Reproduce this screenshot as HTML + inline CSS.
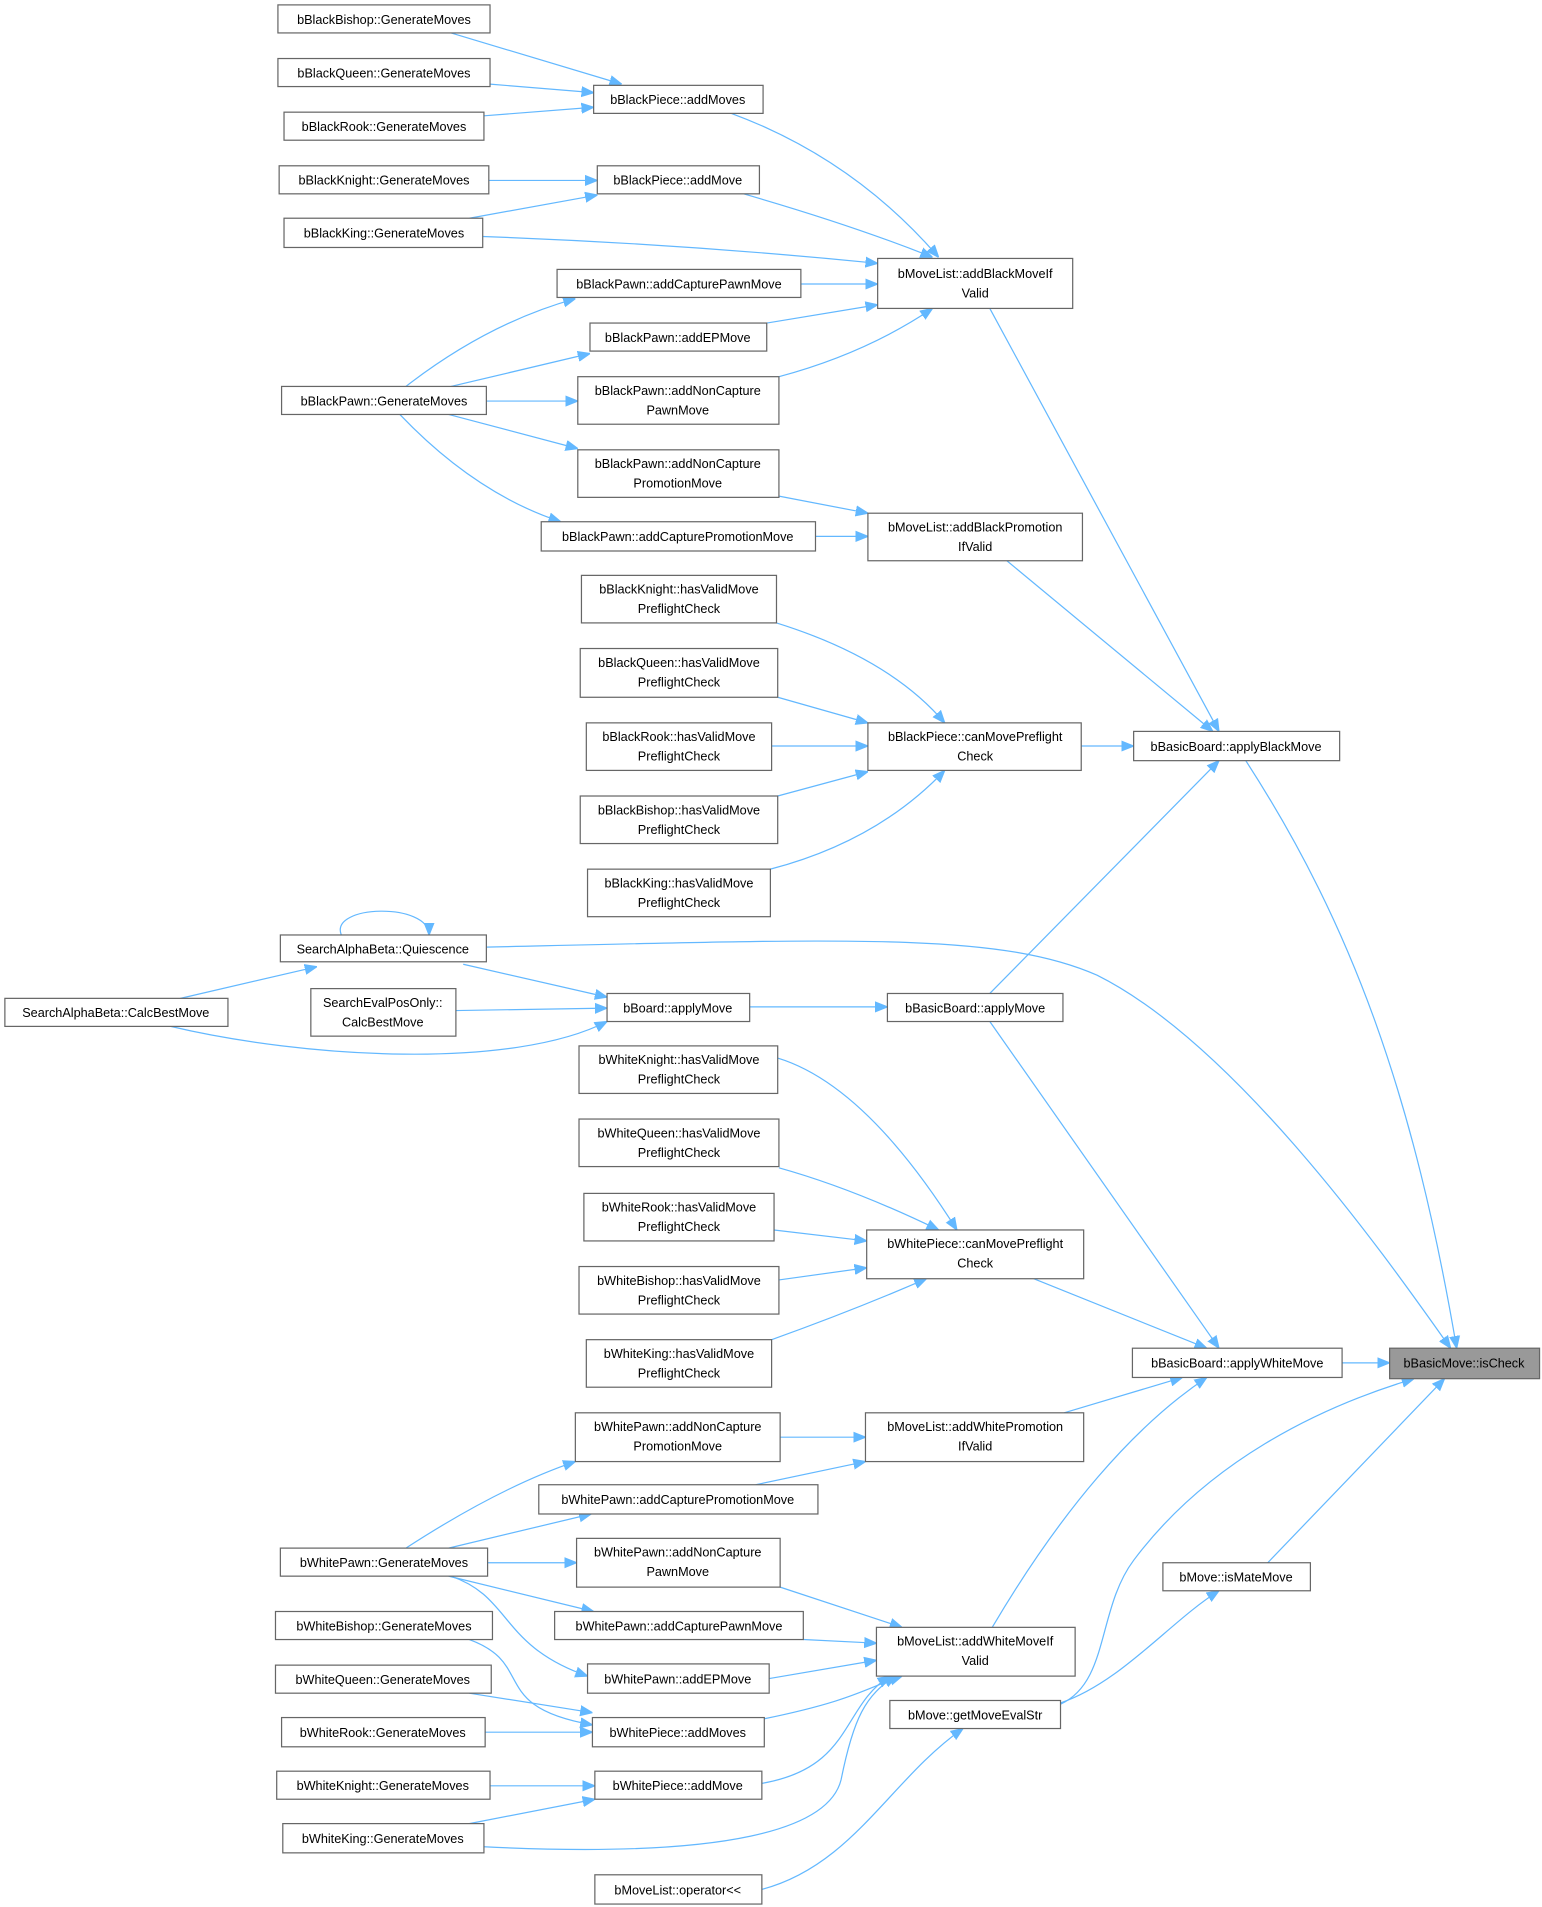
<!DOCTYPE html>
<html><head><meta charset="utf-8"><style>
html,body{margin:0;padding:0;background:#fff;}
svg{display:block;}
text{font-family:"Liberation Sans","DejaVu Sans",sans-serif;font-size:10.4px;fill:#000;text-anchor:middle;}
rect{fill:#fff;stroke:#666;stroke-width:1;}
path{fill:none;stroke:#63b8ff;stroke-width:1;}
</style></head><body>
<svg width="1542" height="1907" viewBox="0 0 1265 1564.4" xmlns="http://www.w3.org/2000/svg">
<defs><marker id="a" viewBox="0 0 10 10" refX="10" refY="5" markerWidth="10" markerHeight="10" markerUnits="userSpaceOnUse" orient="auto"><path d="M0,1 L10,5 L0,9 z" style="fill:#63b8ff;stroke:#63b8ff"/></marker></defs>
<g marker-end="url(#a)">
<path d="M370,27 L510,69" marker-end="url(#a)"/>
<path d="M402,69 L487,76" marker-end="url(#a)"/>
<path d="M397,95 L487,88" marker-end="url(#a)"/>
<path d="M401,148 L490,148" marker-end="url(#a)"/>
<path d="M385,179 L490,160" marker-end="url(#a)"/>
<path d="M600,93 Q700,130 770,211" marker-end="url(#a)"/>
<path d="M610,159 Q700,185 765,211" marker-end="url(#a)"/>
<path d="M396,194 Q560,200 720,216" marker-end="url(#a)"/>
<path d="M657,233 L720,233" marker-end="url(#a)"/>
<path d="M629,265 L720,250" marker-end="url(#a)"/>
<path d="M639,309 Q710,290 765,253" marker-end="url(#a)"/>
<path d="M333,317 Q400,265 472,245" marker-end="url(#a)"/>
<path d="M370,317 L484,290" marker-end="url(#a)"/>
<path d="M399,329 L474,329" marker-end="url(#a)"/>
<path d="M368,340 L474,368" marker-end="url(#a)"/>
<path d="M328,340 Q390,405 460,428" marker-end="url(#a)"/>
<path d="M639,407 L712,421" marker-end="url(#a)"/>
<path d="M669,440 L712,440" marker-end="url(#a)"/>
<path d="M812,253 L1000,600" marker-end="url(#a)"/>
<path d="M826,460 L995,600" marker-end="url(#a)"/>
<path d="M637,511 Q730,540 775,593" marker-end="url(#a)"/>
<path d="M638,572 L712,593" marker-end="url(#a)"/>
<path d="M633,612 L712,612" marker-end="url(#a)"/>
<path d="M638,653 L712,633" marker-end="url(#a)"/>
<path d="M632,713 Q720,690 775,632" marker-end="url(#a)"/>
<path d="M887,612 L930,612" marker-end="url(#a)"/>
<path d="M280,767 C270,742 352,740 352,767" marker-end="url(#a)"/>
<path d="M148,819 L260,793" marker-end="url(#a)"/>
<path d="M140,842 C250,868 420,878 498,838" marker-end="url(#a)"/>
<path d="M374,829 L498,827" marker-end="url(#a)"/>
<path d="M380,791 L498,818" marker-end="url(#a)"/>
<path d="M615,826 L728,826" marker-end="url(#a)"/>
<path d="M812,815 L1000,624" marker-end="url(#a)"/>
<path d="M812,838 L1000,1106" marker-end="url(#a)"/>
<path d="M399,777 C700,770 820,765 900,800 C1020,860 1150,1050 1190,1106" marker-end="url(#a)"/>
<path d="M1022,624 C1110,760 1160,900 1195,1106" marker-end="url(#a)"/>
<path d="M638,868 Q710,890 785,1009" marker-end="url(#a)"/>
<path d="M639,958 Q700,975 770,1009" marker-end="url(#a)"/>
<path d="M635,1009 L711,1018" marker-end="url(#a)"/>
<path d="M639,1050 L711,1040" marker-end="url(#a)"/>
<path d="M633,1099 Q700,1075 760,1049" marker-end="url(#a)"/>
<path d="M848,1049 L990,1106" marker-end="url(#a)"/>
<path d="M1101,1118 L1140,1118" marker-end="url(#a)"/>
<path d="M873,1159 L970,1130" marker-end="url(#a)"/>
<path d="M814,1335 C870,1240 930,1170 990,1130" marker-end="url(#a)"/>
<path d="M640,1179 L710,1179" marker-end="url(#a)"/>
<path d="M620,1218 L710,1199" marker-end="url(#a)"/>
<path d="M333,1270 Q410,1220 472,1199" marker-end="url(#a)"/>
<path d="M368,1270 L485,1242" marker-end="url(#a)"/>
<path d="M400,1282 L473,1282" marker-end="url(#a)"/>
<path d="M640,1302 L740,1335" marker-end="url(#a)"/>
<path d="M368,1293 L487,1322" marker-end="url(#a)"/>
<path d="M370,1293 C420,1310 410,1350 482,1375" marker-end="url(#a)"/>
<path d="M659,1345 L719,1348" marker-end="url(#a)"/>
<path d="M631,1377 L719,1362" marker-end="url(#a)"/>
<path d="M385,1345 C440,1365 400,1400 486,1415" marker-end="url(#a)"/>
<path d="M385,1389 L486,1405" marker-end="url(#a)"/>
<path d="M398,1421 L486,1421" marker-end="url(#a)"/>
<path d="M627,1410 C700,1395 710,1385 740,1375" marker-end="url(#a)"/>
<path d="M625,1463 C700,1450 690,1400 730,1375" marker-end="url(#a)"/>
<path d="M397,1515 C600,1525 680,1500 690,1460 C700,1410 710,1390 735,1375" marker-end="url(#a)"/>
<path d="M402,1465 L488,1465" marker-end="url(#a)"/>
<path d="M385,1496 L488,1476" marker-end="url(#a)"/>
<path d="M870,1398 C910,1380 900,1320 930,1280 C990,1200 1080,1155 1160,1131" marker-end="url(#a)"/>
<path d="M1040,1282 L1185,1131" marker-end="url(#a)"/>
<path d="M870,1397 C920,1380 960,1330 1000,1305" marker-end="url(#a)"/>
<path d="M625,1550 C700,1530 730,1460 790,1418" marker-end="url(#a)"/>
</g>
<g>
<rect x="228" y="4" width="174" height="23"/><text x="315" y="19.5">bBlackBishop::GenerateMoves</text>
<rect x="228" y="48" width="174" height="23"/><text x="315" y="63.5">bBlackQueen::GenerateMoves</text>
<rect x="233" y="92" width="164" height="23"/><text x="315" y="107.5">bBlackRook::GenerateMoves</text>
<rect x="229" y="136" width="172" height="23"/><text x="315" y="151.5">bBlackKnight::GenerateMoves</text>
<rect x="233" y="179" width="163" height="24"/><text x="315" y="195">bBlackKing::GenerateMoves</text>
<rect x="487" y="70" width="139" height="23"/><text x="556" y="85.5">bBlackPiece::addMoves</text>
<rect x="490" y="136" width="133" height="23"/><text x="556" y="151.5">bBlackPiece::addMove</text>
<rect x="720" y="212" width="160" height="41"/><text x="800" y="228">bMoveList::addBlackMoveIf</text><text x="800" y="244">Valid</text>
<rect x="457" y="221" width="200" height="23"/><text x="557" y="236.5">bBlackPawn::addCapturePawnMove</text>
<rect x="484" y="265" width="145" height="23"/><text x="556" y="280.5">bBlackPawn::addEPMove</text>
<rect x="474" y="309" width="165" height="39"/><text x="556" y="324">bBlackPawn::addNonCapture</text><text x="556" y="340">PawnMove</text>
<rect x="231" y="317" width="168" height="23"/><text x="315" y="332.5">bBlackPawn::GenerateMoves</text>
<rect x="474" y="369" width="165" height="39"/><text x="556" y="384">bBlackPawn::addNonCapture</text><text x="556" y="400">PromotionMove</text>
<rect x="444" y="428" width="225" height="24"/><text x="556" y="444">bBlackPawn::addCapturePromotionMove</text>
<rect x="712" y="421" width="176" height="39"/><text x="800" y="436">bMoveList::addBlackPromotion</text><text x="800" y="452">IfValid</text>
<rect x="477" y="472" width="160" height="39"/><text x="557" y="487">bBlackKnight::hasValidMove</text><text x="557" y="503">PreflightCheck</text>
<rect x="476" y="532" width="162" height="40"/><text x="557" y="547">bBlackQueen::hasValidMove</text><text x="557" y="563">PreflightCheck</text>
<rect x="481" y="593" width="152" height="39"/><text x="557" y="608">bBlackRook::hasValidMove</text><text x="557" y="624">PreflightCheck</text>
<rect x="476" y="653" width="162" height="39"/><text x="557" y="668">bBlackBishop::hasValidMove</text><text x="557" y="684">PreflightCheck</text>
<rect x="482" y="713" width="150" height="39"/><text x="557" y="728">bBlackKing::hasValidMove</text><text x="557" y="744">PreflightCheck</text>
<rect x="712" y="593" width="175" height="39"/><text x="800" y="608">bBlackPiece::canMovePreflight</text><text x="800" y="624">Check</text>
<rect x="930" y="600" width="169" height="24"/><text x="1014" y="616">bBasicBoard::applyBlackMove</text>
<rect x="230" y="767" width="169" height="22"/><text x="314" y="782">SearchAlphaBeta::Quiescence</text>
<rect x="4" y="819" width="183" height="23"/><text x="95" y="834.5">SearchAlphaBeta::CalcBestMove</text>
<rect x="255" y="811" width="119" height="39"/><text x="314" y="826">SearchEvalPosOnly::</text><text x="314" y="842">CalcBestMove</text>
<rect x="498" y="815" width="117" height="23"/><text x="556" y="830.5">bBoard::applyMove</text>
<rect x="728" y="815" width="144" height="23"/><text x="800" y="830.5">bBasicBoard::applyMove</text>
<rect x="475" y="858" width="163" height="39"/><text x="557" y="873">bWhiteKnight::hasValidMove</text><text x="557" y="889">PreflightCheck</text>
<rect x="475" y="918" width="164" height="39"/><text x="557" y="933">bWhiteQueen::hasValidMove</text><text x="557" y="949">PreflightCheck</text>
<rect x="479" y="979" width="156" height="39"/><text x="557" y="994">bWhiteRook::hasValidMove</text><text x="557" y="1010">PreflightCheck</text>
<rect x="475" y="1039" width="164" height="39"/><text x="557" y="1054">bWhiteBishop::hasValidMove</text><text x="557" y="1070">PreflightCheck</text>
<rect x="481" y="1099" width="152" height="39"/><text x="557" y="1114">bWhiteKing::hasValidMove</text><text x="557" y="1130">PreflightCheck</text>
<rect x="711" y="1009" width="178" height="40"/><text x="800" y="1024">bWhitePiece::canMovePreflight</text><text x="800" y="1040">Check</text>
<rect x="929" y="1106" width="172" height="24"/><text x="1015" y="1122">bBasicBoard::applyWhiteMove</text>
<rect x="1140" y="1106" width="123" height="25" style="fill:#999"/><text x="1201" y="1122">bBasicMove::isCheck</text>
<rect x="472" y="1159" width="168" height="40"/><text x="556" y="1174">bWhitePawn::addNonCapture</text><text x="556" y="1190">PromotionMove</text>
<rect x="710" y="1159" width="179" height="40"/><text x="800" y="1174">bMoveList::addWhitePromotion</text><text x="800" y="1190">IfValid</text>
<rect x="442" y="1218" width="229" height="24"/><text x="556" y="1234">bWhitePawn::addCapturePromotionMove</text>
<rect x="230" y="1270" width="170" height="23"/><text x="315" y="1285.5">bWhitePawn::GenerateMoves</text>
<rect x="473" y="1262" width="167" height="40"/><text x="556" y="1277">bWhitePawn::addNonCapture</text><text x="556" y="1293">PawnMove</text>
<rect x="954" y="1282" width="121" height="23"/><text x="1014" y="1297.5">bMove::isMateMove</text>
<rect x="455" y="1322" width="204" height="23"/><text x="557" y="1337.5">bWhitePawn::addCapturePawnMove</text>
<rect x="719" y="1335" width="163" height="40"/><text x="800" y="1350">bMoveList::addWhiteMoveIf</text><text x="800" y="1366">Valid</text>
<rect x="226" y="1322" width="178" height="23"/><text x="315" y="1337.5">bWhiteBishop::GenerateMoves</text>
<rect x="226" y="1366" width="177" height="23"/><text x="314" y="1381.5">bWhiteQueen::GenerateMoves</text>
<rect x="482" y="1365" width="149" height="24"/><text x="556" y="1381">bWhitePawn::addEPMove</text>
<rect x="231" y="1409" width="167" height="24"/><text x="314" y="1425">bWhiteRook::GenerateMoves</text>
<rect x="486" y="1409" width="141" height="24"/><text x="556" y="1425">bWhitePiece::addMoves</text>
<rect x="730" y="1395" width="140" height="23"/><text x="800" y="1410.5">bMove::getMoveEvalStr</text>
<rect x="227" y="1453" width="175" height="23"/><text x="314" y="1468.5">bWhiteKnight::GenerateMoves</text>
<rect x="488" y="1453" width="137" height="23"/><text x="556" y="1468.5">bWhitePiece::addMove</text>
<rect x="232" y="1496" width="165" height="24"/><text x="314" y="1512">bWhiteKing::GenerateMoves</text>
<rect x="488" y="1538" width="137" height="24"/><text x="556" y="1554">bMoveList::operator&lt;&lt;</text>
</g>
</svg>
</body></html>
